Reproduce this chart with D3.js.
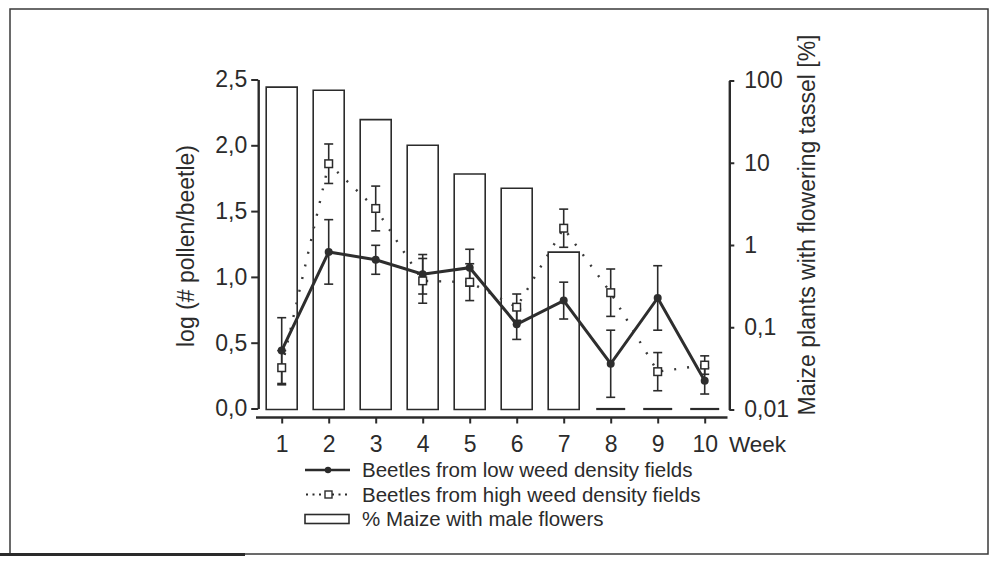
<!DOCTYPE html>
<html>
<head>
<meta charset="utf-8">
<script src="https://cdn.jsdelivr.net/npm/d3@7"></script>
<style>
  html, body { margin: 0; padding: 0; background: #fff; }
  svg { display: block; }
  text { font-family: "Liberation Sans", Arial, Helvetica, sans-serif; fill: #2b2b2b; }
</style>
</head>
<body>
<svg id="chart" width="996" height="564"></svg>
<script>
// Weekly pollen load per beetle (log scale) and share of flowering maize plants
const weeks = [1, 2, 3, 4, 5, 6, 7, 8, 9, 10];
const lowMean  = [0.44, 1.19, 1.13, 1.02, 1.07, 0.64, 0.82, 0.34, 0.84, 0.21];
const lowErr   = [0.25, 0.245, 0.11, 0.15, 0.14, 0.115, 0.14, 0.255, 0.245, 0.10];
const highMean = [0.31, 1.86, 1.52, 0.97, 0.96, 0.77, 1.37, 0.88, 0.28, 0.33];
const highErr  = [0.13, 0.15, 0.17, 0.17, 0.14, 0.10, 0.145, 0.18, 0.145, 0.07];
const maizePct = [83, 76, 33.4, 16.3, 7.3, 4.9, 0.82, 0, 0, 0];

const leftTicks  = [0, 0.5, 1.0, 1.5, 2.0, 2.5];
const rightTicks = [0.01, 0.1, 1, 10, 100];
const rightTickLabels = ["0,01", "0,1", "1", "10", "100"];

const legendLabels = [
  "Beetles from low weed density fields",
  "Beetles from high weed density fields",
  "% Maize with male flowers"
];

const ink = "#2b2b2b";
const svg = d3.select("#chart");

// Scan frame around the figure
svg.append("rect")
  .attr("x", 10).attr("y", 9).attr("width", 978).attr("height", 545)
  .attr("fill", "none").attr("stroke", "#3a3a3a").attr("stroke-width", 1.5);
svg.append("line")
  .attr("x1", 0).attr("x2", 245).attr("y1", 554.5).attr("y2", 554.5)
  .attr("stroke", "#2a2a2a").attr("stroke-width", 3);

// Scales
const x = d3.scaleLinear().domain([0.5, 10.5]).range([258.2, 728.2]);
const yL = d3.scaleLinear().domain([0, 2.5]).range([408.5, 79.5]);
const yR = d3.scaleLog().domain([0.01, 100]).range([409.5, 80.5]);

const fmtComma = d => d3.format(".1f")(d).replace(".", ",");

// Bars: % of maize with flowering tassel (right log axis); zero values sit on the baseline
const barW = 31;
const bars = svg.append("g");
weeks.forEach((w, i) => {
  const v = maizePct[i];
  const y0 = yR(0.01);
  const y1 = v > 0 ? yR(v) : y0;
  const p = d3.path();
  const bx = x(w) - barW / 2;
  if (v > 0) {
    p.moveTo(bx, y0); p.lineTo(bx, y1); p.lineTo(bx + barW, y1); p.lineTo(bx + barW, y0); p.closePath();
  } else {
    p.moveTo(bx + 1, y0 - 0.5); p.lineTo(bx + barW - 1, y0 - 0.5);
  }
  bars.append("path").attr("d", p.toString())
    .attr("fill", "#fff").attr("stroke", ink)
    .attr("stroke-width", v > 0 ? 1.6 : 2.2);
});

// Left axis
const axL = svg.append("g").attr("transform", "translate(258.2,0)")
  .call(d3.axisLeft(yL).tickValues(leftTicks).tickFormat(fmtComma).tickSize(7).tickSizeOuter(0).tickPadding(4));
// Right axis
const axR = svg.append("g").attr("transform", "translate(729.3,0)")
  .call(d3.axisRight(yR).tickValues(rightTicks).tickFormat((d, i) => rightTickLabels[i]).tickSize(5).tickSizeOuter(0).tickPadding(10));
// Bottom axis (offset below the plot)
const axB = svg.append("g").attr("transform", "translate(0,417.5)")
  .call(d3.axisBottom(x).tickValues(weeks).tickFormat(d3.format("d")).tickSize(6).tickSizeOuter(0).tickPadding(12));

[axL, axR, axB].forEach(a => {
  a.select(".domain").attr("stroke", ink).attr("stroke-width", 2.4);
  a.selectAll(".tick line").attr("stroke", ink).attr("stroke-width", 2);
  a.selectAll(".tick text").attr("font-size", 23).attr("fill", "#2b2b2b")
    .style("font-family", "'Liberation Sans', Arial, sans-serif");
});
axB.select(".domain").attr("d", "M256,0H727.5");

svg.append("text").attr("x", 729).attr("y", 452).attr("font-size", 22.5).text("Week");

// Axis titles
svg.append("text")
  .attr("transform", "translate(194,246) rotate(-90)")
  .attr("text-anchor", "middle").attr("font-size", 23)
  .text("log (# pollen/beetle)");
svg.append("text")
  .attr("transform", "translate(815,225) rotate(-90)")
  .attr("text-anchor", "middle").attr("font-size", 23)
  .text("Maize plants with flowering tassel [%]");

// High weed density: dotted line, error bars, open squares
const line = d3.line().x((d, i) => x(weeks[i])).y(d => yL(d));
svg.append("path").datum(highMean).attr("d", line)
  .attr("fill", "none").attr("stroke", "#3a3a3a").attr("stroke-width", 2.4)
  .attr("stroke-dasharray", "2,11");

function errorBars(means, errs) {
  const g = svg.append("g").attr("stroke", ink).attr("stroke-width", 1.6);
  means.forEach((m, i) => {
    const cx = x(weeks[i]);
    const top = yL(m + errs[i]), bot = yL(m - errs[i]);
    g.append("line").attr("x1", cx).attr("x2", cx).attr("y1", top).attr("y2", bot);
    g.append("line").attr("x1", cx - 4.5).attr("x2", cx + 4.5).attr("y1", top).attr("y2", top);
    g.append("line").attr("x1", cx - 4.5).attr("x2", cx + 4.5).attr("y1", bot).attr("y2", bot);
  });
}
errorBars(highMean, highErr);
errorBars(lowMean, lowErr);

// Low weed density: solid line with filled dots
svg.append("path").datum(lowMean).attr("d", line)
  .attr("fill", "none").attr("stroke", "#2e2e2e").attr("stroke-width", 3);
svg.append("g").selectAll("circle").data(lowMean).join("circle")
  .attr("cx", (d, i) => x(weeks[i])).attr("cy", d => yL(d)).attr("r", 4)
  .attr("fill", "#2e2e2e");

svg.append("g").selectAll("rect").data(highMean).join("rect")
  .attr("x", (d, i) => x(weeks[i]) - 3.8).attr("y", d => yL(d) - 3.8)
  .attr("width", 7.6).attr("height", 7.6)
  .attr("fill", "#fff").attr("stroke", ink).attr("stroke-width", 1.5);

// Legend
const lg = svg.append("g");
const rowY = [470, 494.5, 519];
lg.append("line").attr("x1", 305).attr("x2", 350).attr("y1", rowY[0]).attr("y2", rowY[0])
  .attr("stroke", ink).attr("stroke-width", 2.6);
lg.append("circle").attr("cx", 328).attr("cy", rowY[0]).attr("r", 3.2).attr("fill", ink);
lg.append("line").attr("x1", 306).attr("x2", 350).attr("y1", rowY[1]).attr("y2", rowY[1])
  .attr("stroke", ink).attr("stroke-width", 2.2).attr("stroke-dasharray", "2,4.5");
lg.append("rect").attr("x", 325).attr("y", rowY[1] - 3.5).attr("width", 7).attr("height", 7)
  .attr("fill", "#fff").attr("stroke", ink).attr("stroke-width", 1.4);
lg.append("rect").attr("x", 305).attr("y", rowY[2] - 4.5).attr("width", 44).attr("height", 9)
  .attr("fill", "#fff").attr("stroke", ink).attr("stroke-width", 1.6);
legendLabels.forEach((t, i) => {
  lg.append("text").attr("x", 362).attr("y", rowY[i]).attr("dy", "0.36em")
    .attr("font-size", 20.5).text(t);
});
</script>
</body>
</html>
